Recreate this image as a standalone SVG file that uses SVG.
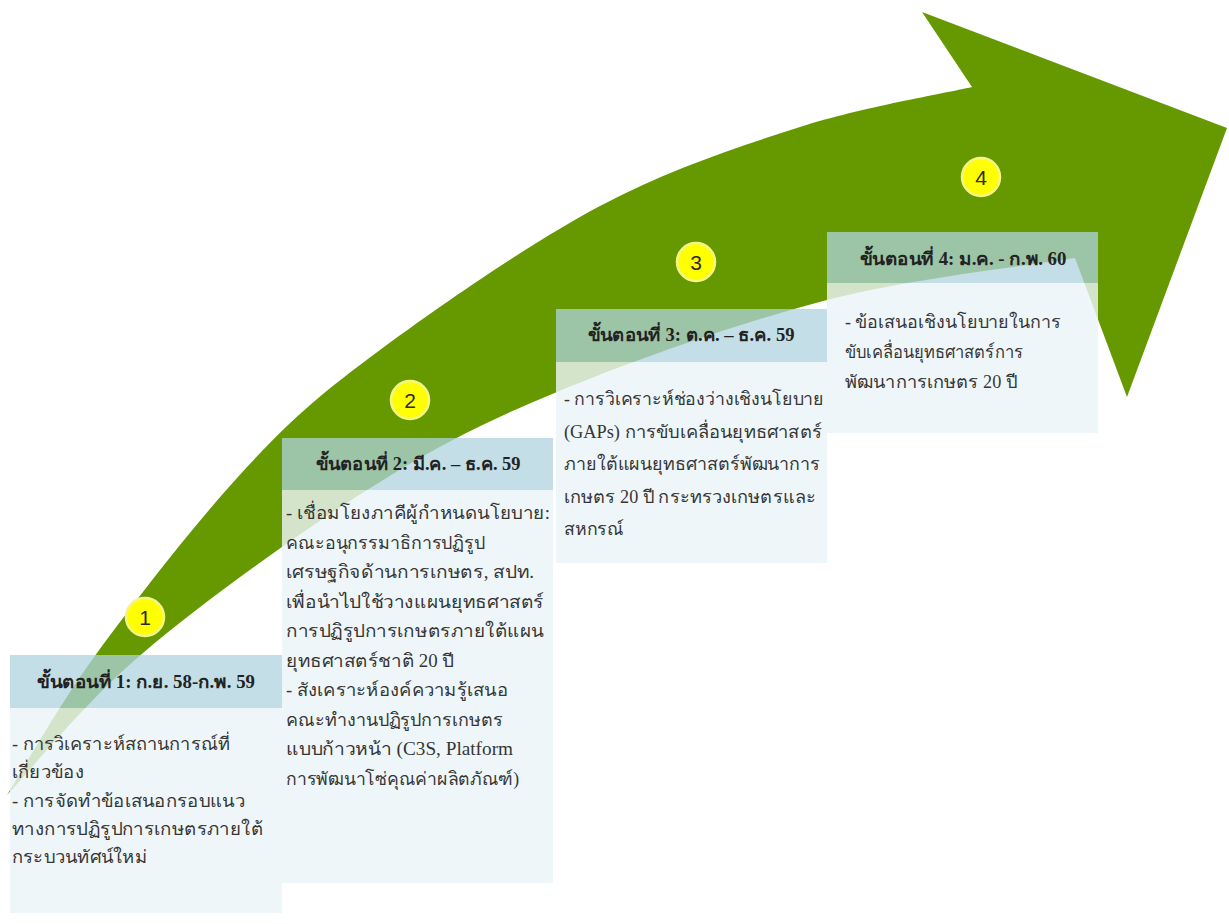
<svg xmlns="http://www.w3.org/2000/svg" width="1229" height="924" viewBox="0 0 1229 924">
  <style>
    .hdr { fill: #AFD3DE; fill-opacity: 0.75; }
    .body { fill: #EBF4F8; fill-opacity: 0.82; }
    .ht { font-family: "Liberation Serif", serif; font-size: 18px; font-weight: bold; fill: #222222; text-anchor: middle; }
    .bt { font-family: "Liberation Serif", serif; font-size: 18px; fill: #363636; }
    .dot { fill: #FFFF00; stroke: #F4F488; stroke-width: 2.5; }
    .num { font-family: "Liberation Sans", "DejaVu Sans", sans-serif; font-size: 21px; fill: #2b2b2b; text-anchor: middle; }
  </style>
  <rect x="0" y="0" width="1229" height="924" fill="#FFFFFF"/>
  <g id="arrow">
    <path fill="#669900" d="M 7,795 C 22,771.3 57,707.7 97,653 C 137,598.3 199.8,517.5 247,467 C 294.2,416.5 321.2,393.5 380,350 C 438.8,306.5 530,243.2 600,206 C 670,168.8 738,146.8 800,127 C 862,107.2 943.3,93.7 972,87 L 922,12 L 1227,128 L 1127,397 L 1075,258 C 1033.7,265 913.3,277.7 827,300 C 740.7,322.3 633.7,360.3 557,392 C 480.3,423.7 436,446.5 367,490 C 298,533.5 203,602.2 143,653 C 83,703.8 29.7,771.3 7,795 Z"/>
  </g>
  <g id="step1">
    <rect class="body" x="10" y="708" width="272" height="205"/>
    <rect class="hdr" x="10" y="655" width="272" height="53"/>
    <text class="ht" x="146" y="688" textLength="218" lengthAdjust="spacingAndGlyphs">ขั้นตอนที่ 1: ก.ย. 58-ก.พ. 59</text>
    <text class="bt" x="12" y="750" textLength="218" lengthAdjust="spacingAndGlyphs">- การวิเคราะห์สถานการณ์ที่</text>
    <text class="bt" x="12" y="778" textLength="72" lengthAdjust="spacingAndGlyphs">เกี่ยวข้อง</text>
    <text class="bt" x="12" y="807" textLength="233" lengthAdjust="spacingAndGlyphs">- การจัดทำข้อเสนอกรอบแนว</text>
    <text class="bt" x="12" y="835" textLength="251" lengthAdjust="spacingAndGlyphs">ทางการปฏิรูปการเกษตรภายใต้</text>
    <text class="bt" x="12" y="863" textLength="135" lengthAdjust="spacingAndGlyphs">กระบวนทัศน์ใหม่</text>
  </g>
  <g id="step2">
    <rect class="body" x="282" y="490" width="271" height="393"/>
    <rect class="hdr" x="282" y="438" width="271" height="52"/>
    <text class="ht" x="418" y="470" textLength="205" lengthAdjust="spacingAndGlyphs">ขั้นตอนที่ 2: มี.ค. – ธ.ค. 59</text>
    <text class="bt" x="286" y="519" textLength="264" lengthAdjust="spacingAndGlyphs">- เชื่อมโยงภาคีผู้กำหนดนโยบาย:</text>
    <text class="bt" x="286" y="548.5" textLength="199" lengthAdjust="spacingAndGlyphs">คณะอนุกรรมาธิการปฏิรูป</text>
    <text class="bt" x="286" y="578" textLength="248" lengthAdjust="spacingAndGlyphs">เศรษฐกิจด้านการเกษตร, สปท.</text>
    <text class="bt" x="286" y="607.5" textLength="258" lengthAdjust="spacingAndGlyphs">เพื่อนำไปใช้วางแผนยุทธศาสตร์</text>
    <text class="bt" x="286" y="637" textLength="258" lengthAdjust="spacingAndGlyphs">การปฏิรูปการเกษตรภายใต้แผน</text>
    <text class="bt" x="286" y="666.5" textLength="168" lengthAdjust="spacingAndGlyphs">ยุทธศาสตร์ชาติ 20 ปี</text>
    <text class="bt" x="286" y="696" textLength="222" lengthAdjust="spacingAndGlyphs">- สังเคราะห์องค์ความรู้เสนอ</text>
    <text class="bt" x="286" y="725.5" textLength="217" lengthAdjust="spacingAndGlyphs">คณะทำงานปฏิรูปการเกษตร</text>
    <text class="bt" x="286" y="755" textLength="227" lengthAdjust="spacingAndGlyphs">แบบก้าวหน้า (C3S, Platform</text>
    <text class="bt" x="286" y="784.5" textLength="233" lengthAdjust="spacingAndGlyphs">การพัฒนาโซ่คุณค่าผลิตภัณฑ์)</text>
  </g>
  <g id="step3">
    <rect class="body" x="556" y="362" width="271" height="201"/>
    <rect class="hdr" x="556" y="309" width="271" height="53"/>
    <text class="ht" x="691" y="341" textLength="207" lengthAdjust="spacingAndGlyphs">ขั้นตอนที่ 3: ต.ค. – ธ.ค. 59</text>
    <text class="bt" x="564" y="405" textLength="260" lengthAdjust="spacingAndGlyphs">- การวิเคราะห์ช่องว่างเชิงนโยบาย</text>
    <text class="bt" x="564" y="437.5" textLength="258" lengthAdjust="spacingAndGlyphs">(GAPs) การขับเคลื่อนยุทธศาสตร์</text>
    <text class="bt" x="564" y="470" textLength="256" lengthAdjust="spacingAndGlyphs">ภายใต้แผนยุทธศาสตร์พัฒนาการ</text>
    <text class="bt" x="564" y="502.5" textLength="252" lengthAdjust="spacingAndGlyphs">เกษตร 20 ปี กระทรวงเกษตรและ</text>
    <text class="bt" x="564" y="535" textLength="60" lengthAdjust="spacingAndGlyphs">สหกรณ์</text>
  </g>
  <g id="step4">
    <rect class="body" x="827" y="283" width="271" height="150"/>
    <rect class="hdr" x="827" y="232" width="271" height="51"/>
    <text class="ht" x="963" y="265" textLength="207" lengthAdjust="spacingAndGlyphs">ขั้นตอนที่ 4: ม.ค. - ก.พ. 60</text>
    <text class="bt" x="845" y="328" textLength="216" lengthAdjust="spacingAndGlyphs">- ข้อเสนอเชิงนโยบายในการ</text>
    <text class="bt" x="845" y="358" textLength="178" lengthAdjust="spacingAndGlyphs">ขับเคลื่อนยุทธศาสตร์การ</text>
    <text class="bt" x="845" y="388" textLength="172" lengthAdjust="spacingAndGlyphs">พัฒนาการเกษตร 20 ปี</text>
  </g>
  <g id="badge1"><circle class="dot" cx="145" cy="617" r="19"/><text class="num" x="145" y="624.5">1</text></g>
  <g id="badge2"><circle class="dot" cx="410" cy="400" r="19"/><text class="num" x="410" y="407.5">2</text></g>
  <g id="badge3"><circle class="dot" cx="696" cy="262" r="19"/><text class="num" x="696" y="269.5">3</text></g>
  <g id="badge4"><circle class="dot" cx="981" cy="177" r="19"/><text class="num" x="981" y="184.5">4</text></g>
</svg>
